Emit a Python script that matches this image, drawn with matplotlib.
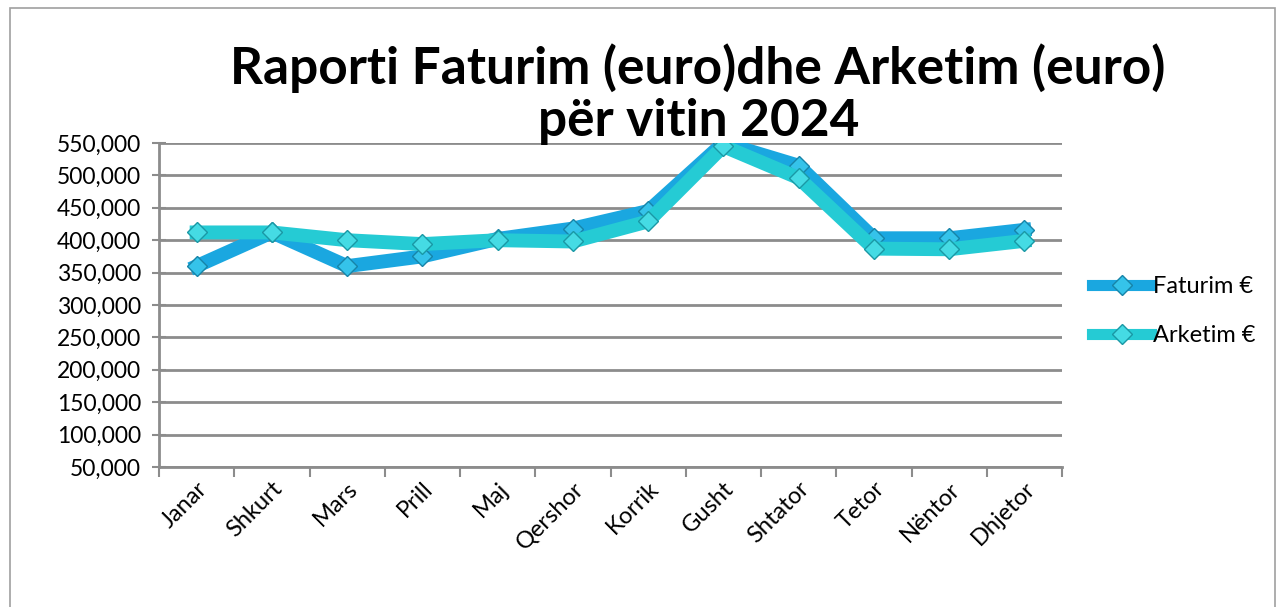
import matplotlib
matplotlib.use("Agg")
import matplotlib.pyplot as plt
from matplotlib.ticker import FuncFormatter, MultipleLocator
from matplotlib.patches import Rectangle

plt.rcParams['font.family'] = ['Lato', 'DejaVu Sans']

muajt = ['Janar', 'Shkurt', 'Mars', 'Prill', 'Maj', 'Qershor', 'Korrik',
         'Gusht', 'Shtator', 'Tetor', 'Nëntor', 'Dhjetor']
faturim = [360000, 412000, 360000, 375000, 402000, 418000, 445000,
           550000, 515000, 403000, 403000, 416000]
arketim = [412000, 412000, 400000, 394000, 400000, 398000, 429000,
           545000, 496000, 387000, 386000, 399000]

col_fat = '#1aa7e0'
col_ark = '#25cbd4'
grid_col = '#8c8c8c'

fig = plt.figure(figsize=(12.8, 6.07), dpi=100)
# outer chart border
fig.patches.append(Rectangle((10 / 1280, -0.1), 1265 / 1280, 1.1 - 8 / 607,
                             transform=fig.transFigure, fill=False,
                             edgecolor='#a0a0a0', linewidth=1.2))

ax = fig.add_axes([159 / 1280, 140 / 607, 903 / 1280, 324 / 607])
x = list(range(len(muajt)))

ax.plot(x, faturim, color=col_fat, linewidth=10, solid_joinstyle='miter',
        marker='D', markersize=10, markerfacecolor='#35c3ea',
        markeredgecolor='#1784a8', markeredgewidth=1, label='Faturim €', zorder=3)
ax.plot(x, arketim, color=col_ark, linewidth=10, solid_joinstyle='miter',
        marker='D', markersize=10, markerfacecolor='#45dbe4',
        markeredgecolor='#1a98a5', markeredgewidth=1, label='Arketim €', zorder=4)

ax.set_xlim(-0.5, len(muajt) - 0.5)
ax.set_ylim(50000, 550000)
ax.yaxis.set_major_locator(MultipleLocator(50000))
ax.yaxis.set_major_formatter(FuncFormatter(lambda v, p: f'{int(v):,}'))
ax.grid(axis='y', color=grid_col, linewidth=2)
ax.set_axisbelow(True)

ax.set_xticks(x)
ax.set_xticklabels(muajt, rotation=45, ha='right', rotation_mode='anchor', fontsize=17)
ax.set_xticks([i - 0.5 for i in range(len(muajt) + 1)], minor=True)
ax.tick_params(axis='x', which='major', length=0, pad=8)
ax.tick_params(axis='x', which='minor', length=7, width=1.5, color=grid_col, direction='out')
ax.tick_params(axis='y', labelsize=16.5, length=10, width=1.5, color=grid_col,
               direction='inout', pad=8)

for s in ['top', 'right']:
    ax.spines[s].set_visible(False)
for s in ['left', 'bottom']:
    ax.spines[s].set_color(grid_col)
    ax.spines[s].set_linewidth(2)

fig.text(0.545, 0.888, 'Raporti Faturim (euro)dhe Arketim (euro)', ha='center',
         va='center', fontsize=37, fontweight='bold')
fig.text(0.546, 0.80, 'për vitin 2024', ha='center', va='center',
         fontsize=37, fontweight='bold')

leg = fig.legend(loc='center left', bbox_to_anchor=(1092 / 1280, 1 - 311 / 607),
                 frameon=False, fontsize=17, handlelength=2.5, handletextpad=0.1,
                 labelspacing=1.2, borderpad=0, borderaxespad=0)
for h in leg.legend_handles:
    h.set_linewidth(8)

fig.savefig('out.png', dpi=100)
